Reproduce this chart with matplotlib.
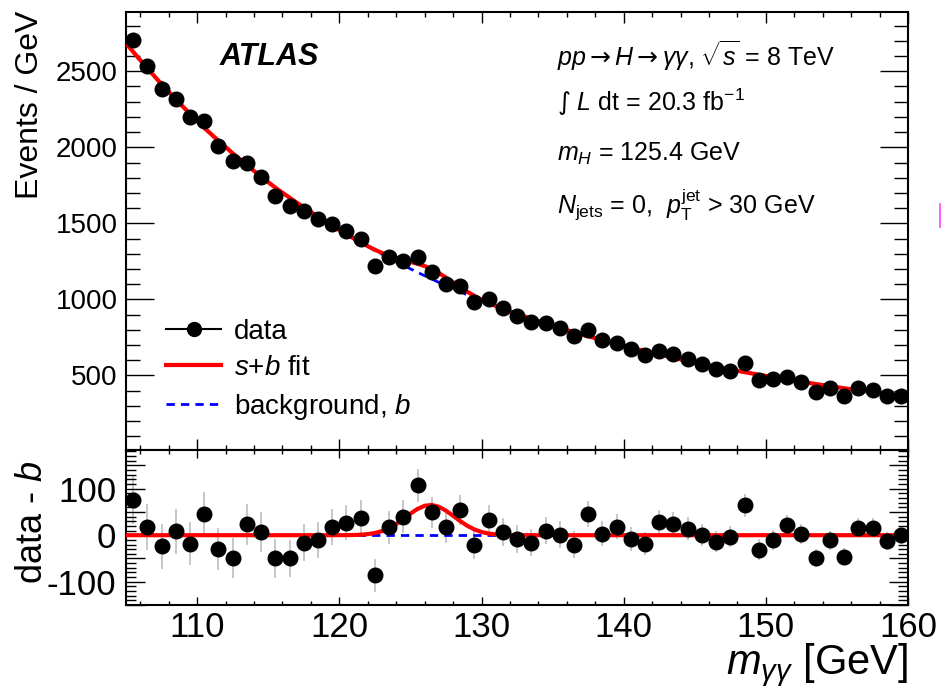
import numpy as np
import matplotlib.pyplot as plt
from matplotlib.lines import Line2D
from matplotlib.ticker import MultipleLocator

plt.rcParams['font.family'] = ['Liberation Sans', 'DejaVu Sans']
plt.rcParams['mathtext.fontset'] = 'custom'
plt.rcParams['mathtext.rm'] = 'Liberation Sans'
plt.rcParams['mathtext.it'] = 'Liberation Sans:italic'
plt.rcParams['mathtext.bf'] = 'Liberation Sans:bold'
plt.rcParams['mathtext.sf'] = 'DejaVu Sans'

# bin centres (1 GeV bins from 105 to 160)
mass = np.arange(105.5, 160, 1.0)

# events per GeV
counts = [2703, 2532, 2385, 2319, 2199, 2170, 2010, 1907, 1900, 1808,
          1683, 1617, 1582, 1528, 1497, 1451, 1398, 1222, 1282, 1253,
          1278, 1179, 1100, 1091, 986, 1001, 942, 893, 852, 847,
          813, 760, 799, 734, 716, 674, 635, 663, 639, 607,
          574, 543, 530, 580, 470, 477, 492, 455, 389, 420,
          367, 420, 405, 367, 367]
count_err = [52, 50, 49, 48, 47, 47, 45, 44, 44, 43,
             41, 40, 40, 39, 39, 38, 37, 35, 36, 35,
             36, 34, 33, 33, 31, 32, 31, 30, 29, 29,
             29, 28, 28, 27, 27, 26, 25, 26, 25, 25,
             24, 23, 23, 24, 22, 22, 22, 21, 20, 20,
             19, 20, 20, 19, 19]

# data - b
resid = [75, 18, -24, 8, -18, 46, -29, -49, 24, 7,
         -50, -50, -16, -10, 18, 27, 38, -86, 17, 40,
         107, 49, 17, 54, -20, 32, 7, -9, -16, 10,
         1, -20, 46, 3, 18, -9, -18, 29, 25, 14,
         1, -14, -3, 64, -31, -10, 22, 3, -49, -11,
         -46, 16, 16, -12, 0]

# fitted curves: nodes are bin centres, finer around the peak
fit_x = np.concatenate([[105.0], np.arange(105.5, 120, 1.0),
                        np.arange(120, 133.5, 0.5),
                        np.arange(133.5, 160, 1.0), [160.0]])
bkg_fit = [2684, 2628, 2519, 2415, 2315, 2220, 2128, 2043, 1961, 1883,
           1807, 1735, 1669, 1605, 1544, 1485,
           1456, 1428, 1401, 1374, 1348, 1322, 1297, 1272, 1248, 1224,
           1201, 1178, 1156, 1134, 1112, 1091, 1071, 1050, 1030, 1011,
           992, 973, 955, 938, 921, 905, 889,
           873, 842, 812, 784, 758, 732, 707, 683, 660, 638,
           616, 595, 575, 557, 539, 522, 505, 489, 473, 458,
           444, 430, 416, 403, 390, 378, 366, 360]
# signal component on the 0.5 GeV nodes from 120 to 133
sig_peak = [0.1, 0.2, 0.4, 1.0, 2.3, 4.7, 8.8, 15.2, 24.0, 34.8,
            46.3, 56.5, 63.2, 64.9, 61.1, 52.7, 41.7, 30.3, 20.2, 12.3,
            6.9, 3.5, 1.7, 0.7, 0.3, 0.1, 0.0]

bkg_fit = np.array(bkg_fit, dtype=float)
sig_fit = np.zeros(len(fit_x))
sig_fit[16:16 + len(sig_peak)] = sig_peak

fig = plt.figure(figsize=(9.42, 6.92), dpi=100)
ax1 = fig.add_axes([0.1338, 0.3497, 0.8302, 0.6330])
ax2 = fig.add_axes([0.1338, 0.1257, 0.8302, 0.2240])

dash = (0, (3, 2.2))

# upper panel
ax1.plot(fit_x, bkg_fit, color='blue', lw=2, ls=dash, zorder=2)
ax1.plot(fit_x, bkg_fit + sig_fit, color='red', lw=3, zorder=3)
ax1.errorbar(mass, counts, yerr=count_err, fmt='o', color='black', ms=10.5,
             elinewidth=1.2, capsize=0, zorder=4)
ax1.set_xlim(105, 160)
ax1.set_ylim(10, 2890)
ax1.yaxis.set_major_locator(MultipleLocator(500))
ax1.yaxis.set_minor_locator(MultipleLocator(100))
ax1.xaxis.set_major_locator(MultipleLocator(10))
ax1.xaxis.set_minor_locator(MultipleLocator(2))
ax1.tick_params(which='both', direction='in', top=True, right=True,
                labelbottom=False, labelsize=20, width=1, pad=6)
ax1.tick_params(axis='y', which='major', length=20)
ax1.tick_params(axis='y', which='minor', length=10)
ax1.tick_params(axis='x', which='major', length=8)
ax1.tick_params(axis='x', which='minor', length=3.5)

ax1.text(0.120, 0.897, 'ATLAS', transform=ax1.transAxes, fontsize=22,
         fontweight='bold', fontstyle='italic', va='center')
info = [r'$pp\mathsf{\rightarrow}H\mathsf{\rightarrow}\gamma\gamma$, $\sqrt{s}$ = 8 TeV',
        r'$\mathsf{\int}$ $L$ dt = 20.3 fb$^{\mathregular{-1}}$',
        r'$m_H$ = 125.4 GeV',
        r'$N_{\mathregular{jets}}$ = 0,  $p_{\mathregular{T}}^{\mathregular{jet}}$ > 30 GeV']
info_y = [0.900, 0.794, 0.675, 0.559]
for txt, yy in zip(info, info_y):
    ax1.text(0.551, yy, txt, transform=ax1.transAxes, fontsize=18, va='center')

handles = [Line2D([], [], color='black', marker='o', ms=10, lw=1.5),
           Line2D([], [], color='red', lw=3),
           Line2D([], [], color='blue', lw=2, ls=dash)]
labels = ['data', r'$s$+$b$ fit', r'background, $b$']
ax1.legend(handles, labels, loc='upper left', bbox_to_anchor=(0.051, 0.30),
           frameon=False, fontsize=20, borderpad=0, borderaxespad=0,
           handlelength=2.0, handletextpad=0.45, labelspacing=0.38)

# lower panel
ax2.plot(fit_x, np.zeros(len(fit_x)), color='blue', lw=2, ls=dash, zorder=2)
ax2.plot(fit_x, sig_fit, color='red', lw=3, zorder=3)
ax2.errorbar(mass, resid, yerr=count_err, fmt='none', ecolor='#bdbdbd',
             elinewidth=1.2, capsize=0, zorder=1)
ax2.plot(mass, resid, 'o', color='black', ms=10.5, zorder=4)
ax2.set_xlim(105, 160)
ax2.set_ylim(-135, 183)
ax2.set_yticks([-150, -100, -50, 0, 50, 100, 150],
               labels=['', '-100', '', '0', '', '100', ''])
ax2.yaxis.set_minor_locator(MultipleLocator(10))
ax2.xaxis.set_major_locator(MultipleLocator(10))
ax2.xaxis.set_minor_locator(MultipleLocator(2))
ax2.tick_params(which='both', direction='in', top=True, right=True, width=1)
ax2.tick_params(axis='y', labelsize=25, pad=7)
ax2.tick_params(axis='x', labelsize=25, pad=4)
ax2.tick_params(axis='y', which='major', length=14)
ax2.tick_params(axis='y', which='minor', length=7)
ax2.tick_params(axis='x', which='major', length=6)
ax2.tick_params(axis='x', which='minor', length=3)

for ax in (ax1, ax2):
    for sp in ax.spines.values():
        sp.set_linewidth(1.5)

fig.text(0.032, 0.985, 'Events / GeV', rotation=90, fontsize=23,
         ha='center', va='top')
fig.text(0.034, 0.245, r'data - $b$', rotation=90, fontsize=26,
         ha='center', va='center')
fig.text(0.964, 0.004, r'$m_{\gamma\gamma}$ [GeV]', fontsize=30,
         ha='right', va='bottom')

fig.add_artist(Line2D([0.9975, 0.9975], [0.672, 0.705], color='#ff40ff', lw=1.2))

fig.savefig('out.png', dpi=100)
